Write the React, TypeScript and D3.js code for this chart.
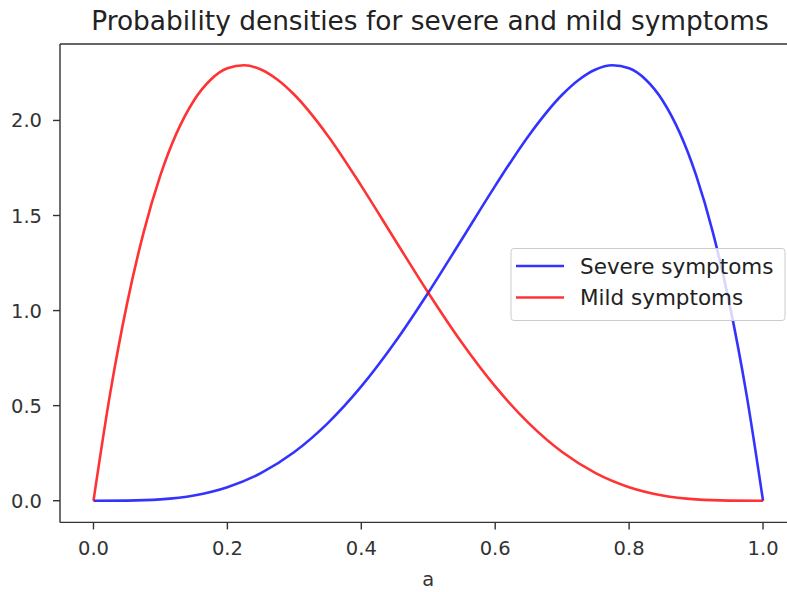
import * as d3 from "d3";
import React from "react";

const xs = [0, 0.05, 0.1, 0.15, 0.2, 0.25, 0.3, 0.35, 0.4, 0.45, 0.5, 0.55, 0.6, 0.65, 0.7, 0.725, 0.75, 0.775, 0.8, 0.825, 0.85, 0.9, 0.925, 0.95, 0.975, 1];
const severe = [0, 0.0007, 0.007, 0.0275, 0.071, 0.145, 0.256, 0.408, 0.601, 0.832, 1.094, 1.374, 1.656, 1.92, 2.135, 2.214, 2.268, 2.29, 2.274, 2.214, 2.105, 1.712, 1.413, 1.034, 0.566, 0];
const mild = [0, 0.566, 1.034, 1.413, 1.712, 2.105, 2.214, 2.274, 2.29, 2.268, 2.214, 2.135, 1.92, 1.656, 1.374, 1.094, 0.832, 0.601, 0.408, 0.256, 0.145, 0.071, 0.0275, 0.007, 0.0007, 0];
const mildXs = [0, 0.025, 0.05, 0.075, 0.1, 0.15, 0.175, 0.2, 0.225, 0.25, 0.275, 0.3, 0.35, 0.4, 0.45, 0.5, 0.55, 0.6, 0.65, 0.7, 0.75, 0.8, 0.85, 0.9, 0.95, 1];
const xTicks = [0, 0.2, 0.4, 0.6, 0.8, 1.0];
const yTicks = [0, 0.5, 1.0, 1.5, 2.0];
const seriesNames = ["Severe symptoms", "Mild symptoms"];
const colors = ["rgba(0,0,255,0.8)", "rgba(255,0,0,0.8)"];

const W = 787, H = 592;
const m = { l: 60, r: 796.5, t: 44, b: 522.4 };

const App: React.FC = () => {
  const x = d3.scaleLinear([-0.05, 1.05], [m.l, m.r]);
  const y = d3.scaleLinear([-0.114, 2.402], [m.b, m.t]);
  const line = d3.line<[number, number]>().x(d => x(d[0])).y(d => y(d[1])).curve(d3.curveMonotoneX);
  const sevPts = xs.map((v, i) => [v, severe[i]] as [number, number]);
  const mildPts = mildXs.map((v, i) => [v, mild[i]] as [number, number]);
  const font = "'DejaVu Sans', sans-serif";

  return (
    <svg width={W} height={H} style={{ position: "absolute", left: 0, top: 0, background: "#fff" }} fontFamily={font}>
      <defs>
        <clipPath id="plot"><rect x={m.l} y={m.t} width={m.r - m.l} height={m.b - m.t} /></clipPath>
      </defs>
      <text x={430} y={30} textAnchor="middle" fontSize={26.4} fill="#222">Probability densities for severe and mild symptoms</text>
      <g clipPath="url(#plot)">
        <path d={line(sevPts) ?? ""} fill="none" stroke={colors[0]} strokeWidth={2.6} />
        <path d={line(mildPts) ?? ""} fill="none" stroke={colors[1]} strokeWidth={2.6} />
      </g>
      {/* spines */}
      <line x1={m.l} x2={m.l} y1={m.t} y2={m.b} stroke="#333" strokeWidth={1.4} />
      <line x1={m.l} x2={m.r} y1={m.b} y2={m.b} stroke="#333" strokeWidth={1.4} />
      <line x1={m.l} x2={m.r} y1={m.t} y2={m.t} stroke="#333" strokeWidth={1.4} />
      {xTicks.map(t => (
        <g key={"x" + t} transform={`translate(${x(t)},${m.b})`}>
          <line y2={7} stroke="#333" strokeWidth={1.4} />
          <text y={33} textAnchor="middle" fontSize={19.5} fill="#333">{t.toFixed(1)}</text>
        </g>
      ))}
      {yTicks.map(t => (
        <g key={"y" + t} transform={`translate(${m.l},${y(t)})`}>
          <line x2={-7} stroke="#333" strokeWidth={1.4} />
          <text x={-18} dy="0.36em" textAnchor="end" fontSize={19.5} fill="#333">{t.toFixed(1)}</text>
        </g>
      ))}
      <text x={x(0.5)} y={586} textAnchor="middle" fontSize={19.5} fill="#333">a</text>
      {/* legend */}
      <rect x={511} y={248.5} width={274} height={72} rx={3} fill="rgba(255,255,255,0.8)" stroke="#ccc" />
      {seriesNames.map((n, i) => (
        <g key={n} transform={`translate(516,${266 + i * 31.5})`}>
          <line x1={0} x2={48} stroke={colors[i]} strokeWidth={2.6} />
          <text x={64} dy="0.36em" fontSize={21.5} fill="#222">{n}</text>
        </g>
      ))}
    </svg>
  );
};

export default App;
